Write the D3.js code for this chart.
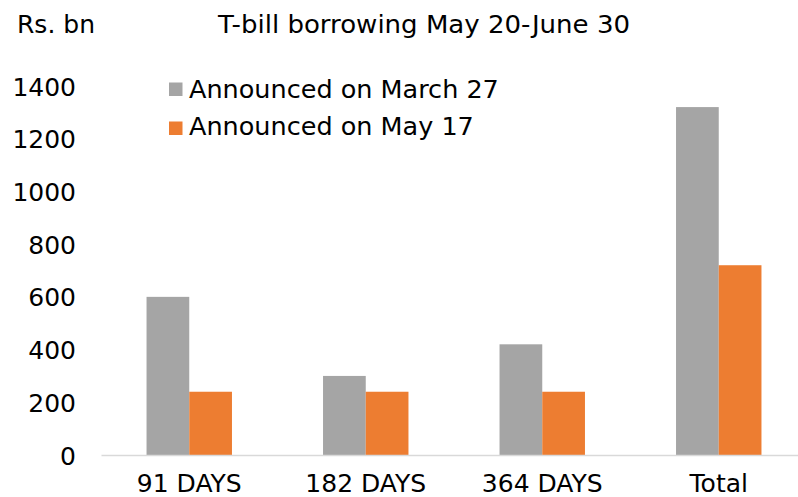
<!DOCTYPE html>
<html><head><meta charset="utf-8">
<script src="https://cdn.jsdelivr.net/npm/d3@7"></script>
<style>body{margin:0;background:#fff}svg{display:block}text{font-family:"DejaVu Sans",sans-serif;fill:#000}</style>
</head><body><svg id="c" width="798" height="497"></svg>
<script>
const categories = ["91 DAYS","182 DAYS","364 DAYS","Total"];
const seriesNames = ["Announced on March 27","Announced on May 17"];
const march27 = [600,300,420,1320];
const may17 = [240,240,240,720];
const yTicks = [0,200,400,600,800,1000,1200,1400];
const colors = ["#A5A5A5","#ED7D31"];

const svg = d3.select("#c");
const x = d3.scaleBand().domain(categories).range([101,807]).paddingInner(0.516).paddingOuter(0.258);
const xs = d3.scaleBand().domain(seriesNames).range([0,x.bandwidth()]);
const y = d3.scaleLinear().domain([0,1400]).range([455,86]);
const vals = [march27, may17];

categories.forEach((c,i)=>{
  seriesNames.forEach((s,j)=>{
    svg.append("rect").attr("x",x(c)+xs(s)).attr("width",xs.bandwidth())
      .attr("y",y(vals[j][i])).attr("height",y(0)-y(vals[j][i])).attr("fill",colors[j]);
  });
});

const yAxis = d3.axisLeft(y).tickValues(yTicks).tickFormat(d3.format("d")).tickSize(0).tickPadding(0);
const gy = svg.append("g").attr("transform","translate(76,0)").call(yAxis);
gy.select(".domain").remove();
gy.selectAll("text").attr("font-size",25).attr("font-family","DejaVu Sans").attr("fill","#000").attr("dy","0.36em");

const xAxis = d3.axisBottom(x).tickSize(0).tickPadding(0);
const gx = svg.append("g").attr("transform","translate(0,455)").call(xAxis);
gx.select(".domain").attr("stroke","#D9D9D9").attr("stroke-width",1.5);
gx.selectAll("text").attr("font-size",25).attr("font-family","DejaVu Sans").attr("fill","#000").attr("dy",null).attr("y",37);

svg.append("text").attr("x",17).attr("y",33).attr("font-size",25).text("Rs. bn");
svg.append("text").attr("x",218).attr("y",33).attr("font-size",25).attr("textLength",412).attr("lengthAdjust","spacingAndGlyphs").text("T-bill borrowing May 20-June 30");

const legendLens = [314, 0];
seriesNames.forEach((s,j)=>{
  svg.append("rect").attr("x",169).attr("y",82.5+j*39).attr("width",13.5).attr("height",13.5).attr("fill",colors[j]);
  const t = svg.append("text").attr("x",189).attr("y",97.5+j*37).attr("font-size",25.5).text(s);
});
</script></body></html>
